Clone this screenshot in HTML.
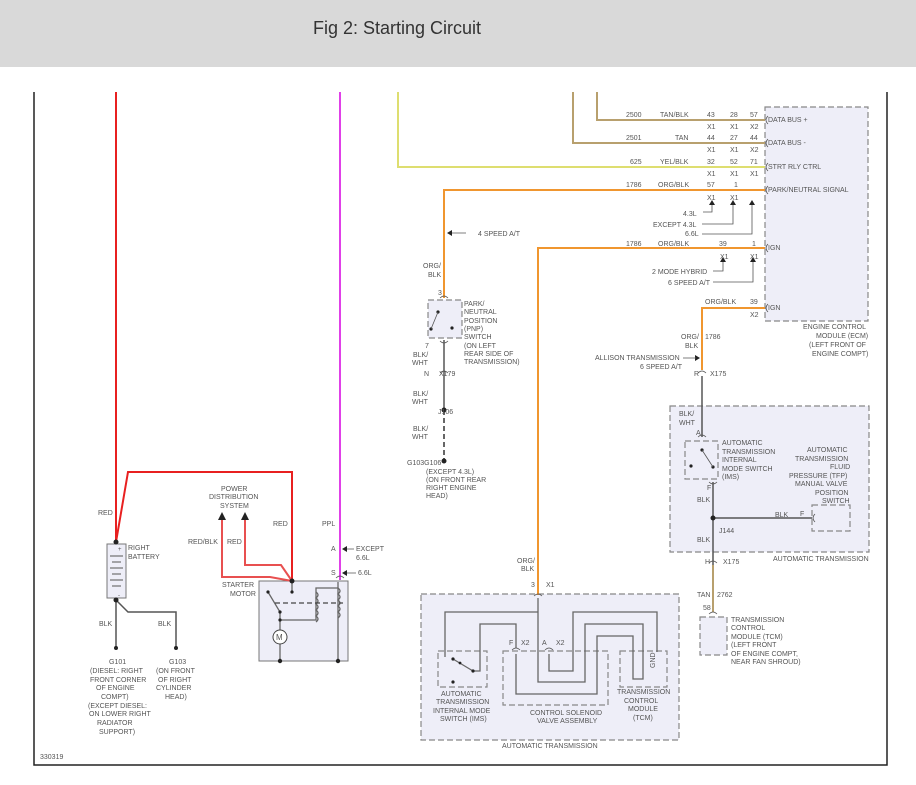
<!DOCTYPE html>
<html><head><style>
body{margin:0;width:916px;height:785px;background:#fff;overflow:hidden}
svg{position:absolute;left:0;top:0}
text{font-family:"Liberation Sans",sans-serif;font-size:7px;fill:#555}
</style></head><body>
<svg width="916" height="785" viewBox="0 0 916 785">
<rect x="0" y="0" width="916" height="67" fill="#d9d9d9"/>
<text x="313" y="34" style="font-size:18px;fill:#333">Fig 2: Starting Circuit</text>
<g stroke="#222" stroke-width="1.5" fill="none">
<path d="M34 92V765H887V92"/>
</g>
<text x="40" y="759">330319</text>

<!-- boxes -->
<g stroke="#888" stroke-width="1.2" stroke-dasharray="6,3" fill="#eeeef8">
<rect x="765" y="107" width="103" height="214"/>
<rect x="670" y="406" width="199" height="146"/>
<rect x="421" y="594" width="258" height="146"/>
<rect x="428" y="300" width="34" height="38"/>
<rect x="685" y="441" width="33" height="38"/>
<rect x="812" y="505" width="38" height="26"/>
<rect x="700" y="617" width="27" height="38"/>
<rect x="438" y="651" width="49" height="36"/>
<rect x="503" y="651" width="105" height="54"/>
<rect x="620" y="651" width="47" height="36"/>
</g>
<rect x="259" y="581" width="89" height="80" fill="#eeeef8" stroke="#777"/>
<rect x="107" y="544" width="19" height="54" fill="#eeeef8" stroke="#777"/>
<g stroke="#555" stroke-width="1">
<path d="M110 556h13M112 562h9M110 568h13M112 574h9M110 580h13M112 586h9"/>
</g>

<!-- wires -->
<g fill="none" stroke-width="2">
<path d="M597 92V120H765" stroke="#b8a06e"/>
<path d="M573 92V143H765" stroke="#b8a06e"/>
<path d="M398 92V167H765" stroke="#dede70"/>
<path d="M765 190H444V298" stroke="#f0962f"/>
<path d="M765 248H538V595" stroke="#f0962f"/>
<path d="M765 308H702V370" stroke="#f0962f"/>
<path d="M116 92V542" stroke="#e82020"/>
<path d="M116 542L128 472H292V581" stroke="#e82020"/>
<path d="M222 516V577H270L292 581" stroke="#e85050"/>
<path d="M245 516V565H281L292 581" stroke="#e85050"/>
<path d="M340 92V580" stroke="#e040e8"/>
<path d="M713 565V612" stroke="#b8a06e"/>
</g>
<g fill="none" stroke="#555" stroke-width="1.5">
<path d="M444 340V410"/>
<path d="M444 410V462" stroke-dasharray="5,3" stroke="#333"/>
<path d="M702 376V437"/>
<path d="M713 482V565M713 518H812"/>
<path d="M116 600V648M116 600L128 612H176V648"/>
</g>
<g fill="none" stroke="#666" stroke-width="1.3">
<!-- lower transmission -->
<path d="M538 598V682H585V624H643V679H633V636H597V694H516V654"/>
<path d="M445 657V612H538"/>
<path d="M473 671H480V624H516V648"/>
<path d="M549 654V671H573V612H657V652"/>
<path d="M453 659L473 671"/>
<!-- starter -->
<path d="M292 581V592M268 592L280 612V637M280 612V620H316V588H338M338 582V661M280 644V661"/>
<path d="M316 592q4 3 0 6q4 3 0 6q4 3 0 6q4 3 0 6q4 3 0 6M338 588q4 3 0 6q4 3 0 6q4 3 0 6q4 3 0 6q4 3 0 6"/>
</g>
<path d="M275 603H343" stroke="#444" stroke-width="1.3" stroke-dasharray="5,3"/>
<circle cx="280" cy="637" r="7" fill="#fff" stroke="#444"/>
<text x="276" y="640" style="font-size:8px">M</text>
<g fill="#222">
<circle cx="116" cy="542" r="2.5"/><circle cx="116" cy="600" r="2.5"/><circle cx="292" cy="581" r="2.5"/>
<circle cx="444" cy="410" r="2.5"/><circle cx="444" cy="461" r="2.5"/><circle cx="713" cy="518" r="2.5"/>
<circle cx="116" cy="648" r="2"/><circle cx="176" cy="648" r="2"/><circle cx="280" cy="661" r="2.2"/><circle cx="338" cy="661" r="2.2"/>
<circle cx="292" cy="592" r="1.6"/><circle cx="268" cy="592" r="1.6"/><circle cx="280" cy="612" r="1.6"/><circle cx="280" cy="620" r="1.6"/>
<circle cx="453" cy="659" r="1.6"/><circle cx="460" cy="663" r="1.4"/><circle cx="473" cy="671" r="1.6"/><circle cx="453" cy="682" r="1.6"/>
<circle cx="438" cy="312" r="1.6"/><circle cx="431" cy="329" r="1.6"/><circle cx="452" cy="328" r="1.6"/>
<circle cx="702" cy="450" r="1.6"/><circle cx="713" cy="467" r="1.6"/><circle cx="691" cy="466" r="1.6"/>
<path d="M218 520L222 512L226 520Z M241 520L245 512L249 520Z"/>
<path d="M709 205L712 200L715 205Z M730 205L733 200L736 205Z M749 205L752 200L755 205Z M720 262L723 257L726 262Z M750 262L753 257L756 262Z"/>
<path d="M447 233L452 230V236Z M700 358L695 355V361Z M342 549L347 546V552Z M342 573L347 570V576Z"/>
</g>
<g fill="none" stroke="#555" stroke-width="0.8">
<path d="M703 212H712V205M702 224H733V205M702 234H752V205M713 271H723V262M713 282H753V262M452 233H466M683 358H696M347 549H354M347 573H356"/>
<path d="M438 312L431 329M702 450L713 467"/>
<path d="M768 116q-4 4 0 8M768 139q-4 4 0 8M768 163q-4 4 0 8M768 186q-4 4 0 8M768 244q-4 4 0 8M768 304q-4 4 0 8M815 514q-4 4 0 8"/>
<path d="M440 298q4-4 8 0M440 341q4 4 8 0M440 373q4-4 8 0M698 373q4-4 8 0M698 437q4-4 8 0M709 482q4 4 8 0M709 563q4-4 8 0M709 614q4-4 8 0M534 596q4-4 8 0M512 650q4-4 8 0M545 650q4-4 8 0M336 578q4-4 8 0"/>
</g>

<!-- text -->
<text x="768" y="122">DATA BUS +</text><text x="768" y="145">DATA BUS -</text>
<text x="768" y="169">STRT RLY CTRL</text><text x="768" y="192">PARK/NEUTRAL SIGNAL</text>
<text x="768" y="250">IGN</text><text x="768" y="310">IGN</text>
<text x="626" y="117">2500</text><text x="660" y="117">TAN/BLK</text><text x="707" y="117">43</text><text x="730" y="117">28</text><text x="750" y="117">57</text>
<text x="707" y="129">X1</text><text x="730" y="129">X1</text><text x="750" y="129">X2</text>
<text x="626" y="140">2501</text><text x="675" y="140">TAN</text><text x="707" y="140">44</text><text x="730" y="140">27</text><text x="750" y="140">44</text>
<text x="707" y="152">X1</text><text x="730" y="152">X1</text><text x="750" y="152">X2</text>
<text x="630" y="164">625</text><text x="660" y="164">YEL/BLK</text><text x="707" y="164">32</text><text x="730" y="164">52</text><text x="750" y="164">71</text>
<text x="707" y="176">X1</text><text x="730" y="176">X1</text><text x="750" y="176">X1</text>
<text x="626" y="187">1786</text><text x="658" y="187">ORG/BLK</text><text x="707" y="187">57</text><text x="734" y="187">1</text>
<text x="707" y="200">X1</text><text x="730" y="200">X1</text>
<text x="683" y="216">4.3L</text><text x="653" y="227">EXCEPT 4.3L</text><text x="685" y="236">6.6L</text>
<text x="478" y="236">4 SPEED A/T</text>
<text x="626" y="246">1786</text><text x="658" y="246">ORG/BLK</text><text x="719" y="246">39</text><text x="752" y="246">1</text>
<text x="720" y="259">X1</text><text x="750" y="259">X1</text>
<text x="652" y="274">2 MODE HYBRID</text><text x="668" y="285">6 SPEED A/T</text>
<text x="705" y="304">ORG/BLK</text><text x="750" y="304">39</text><text x="750" y="317">X2</text>
<text x="803" y="329">ENGINE CONTROL</text><text x="816" y="338">MODULE (ECM)</text><text x="809" y="347">(LEFT FRONT OF</text><text x="812" y="356">ENGINE COMPT)</text>
<text x="681" y="339">ORG/</text><text x="685" y="348">BLK</text><text x="705" y="339">1786</text>
<text x="595" y="360">ALLISON TRANSMISSION</text><text x="640" y="369">6 SPEED A/T</text>
<text x="694" y="376">R</text><text x="710" y="376">X175</text>
<text x="423" y="268">ORG/</text><text x="428" y="277">BLK</text><text x="438" y="295">3</text>
<text x="464" y="306">PARK/</text><text x="464" y="314">NEUTRAL</text><text x="464" y="323">POSITION</text><text x="464" y="331">(PNP)</text><text x="464" y="339">SWITCH</text><text x="464" y="348">(ON LEFT</text><text x="464" y="356">REAR SIDE OF</text><text x="464" y="364">TRANSMISSION)</text>
<text x="425" y="348">7</text><text x="413" y="357">BLK/</text><text x="412" y="365">WHT</text><text x="424" y="376">N</text><text x="439" y="376">X179</text>
<text x="413" y="396">BLK/</text><text x="412" y="404">WHT</text><text x="438" y="414">J106</text>
<text x="413" y="431">BLK/</text><text x="412" y="439">WHT</text>
<text x="407" y="465">G103G106</text><text x="426" y="474">(EXCEPT 4.3L)</text><text x="426" y="482">(ON FRONT REAR</text><text x="426" y="490">RIGHT ENGINE</text><text x="426" y="498">HEAD)</text>
<text x="517" y="563">ORG/</text><text x="521" y="571">BLK</text><text x="531" y="587">3</text><text x="546" y="587">X1</text>
<text x="509" y="645">F</text><text x="521" y="645">X2</text><text x="542" y="645">A</text><text x="556" y="645">X2</text>
<text x="655" y="668" transform="rotate(-90 655 668)">GND</text>
<text x="441" y="696">AUTOMATIC</text><text x="436" y="704">TRANSMISSION</text><text x="433" y="713">INTERNAL MODE</text><text x="440" y="721">SWITCH (IMS)</text>
<text x="530" y="715">CONTROL SOLENOID</text><text x="537" y="723">VALVE ASSEMBLY</text>
<text x="617" y="694">TRANSMISSION</text><text x="624" y="703">CONTROL</text><text x="628" y="711">MODULE</text><text x="633" y="720">(TCM)</text>
<text x="502" y="748">AUTOMATIC TRANSMISSION</text>
<text x="679" y="416">BLK/</text><text x="679" y="425">WHT</text><text x="696" y="435">A</text>
<text x="722" y="445">AUTOMATIC</text><text x="722" y="454">TRANSMISSION</text><text x="722" y="462">INTERNAL</text><text x="722" y="471">MODE SWITCH</text><text x="722" y="479">(IMS)</text>
<text x="807" y="452">AUTOMATIC</text><text x="795" y="461">TRANSMISSION</text><text x="830" y="469">FLUID</text><text x="789" y="478">PRESSURE (TFP)</text><text x="795" y="486">MANUAL VALVE</text><text x="815" y="495">POSITION</text><text x="822" y="503">SWITCH</text>
<text x="707" y="490">F</text><text x="697" y="502">BLK</text><text x="775" y="517">BLK</text><text x="800" y="516">F</text>
<text x="719" y="533">J144</text><text x="697" y="542">BLK</text>
<text x="773" y="561">AUTOMATIC TRANSMISSION</text>
<text x="705" y="564">H</text><text x="723" y="564">X175</text>
<text x="697" y="597">TAN</text><text x="717" y="597">2762</text><text x="703" y="610">58</text>
<text x="731" y="622">TRANSMISSION</text><text x="731" y="630">CONTROL</text><text x="731" y="639">MODULE (TCM)</text><text x="731" y="647">(LEFT FRONT</text><text x="731" y="656">OF ENGINE COMPT,</text><text x="731" y="664">NEAR FAN SHROUD)</text>
<text x="98" y="515">RED</text><text x="128" y="550">RIGHT</text><text x="128" y="559">BATTERY</text>
<text x="118" y="551" style="font-size:6px">+</text><text x="118" y="597" style="font-size:6px">-</text>
<text x="99" y="626">BLK</text><text x="158" y="626">BLK</text>
<text x="109" y="664">G101</text><text x="90" y="673">(DIESEL: RIGHT</text><text x="90" y="682">FRONT CORNER</text><text x="96" y="690">OF ENGINE</text><text x="101" y="699">COMPT)</text><text x="88" y="708">(EXCEPT DIESEL:</text><text x="89" y="716">ON LOWER RIGHT</text><text x="97" y="725">RADIATOR</text><text x="99" y="734">SUPPORT)</text>
<text x="169" y="664">G103</text><text x="156" y="673">(ON FRONT</text><text x="158" y="682">OF RIGHT</text><text x="156" y="690">CYLINDER</text><text x="165" y="699">HEAD)</text>
<text x="221" y="491">POWER</text><text x="209" y="499">DISTRIBUTION</text><text x="220" y="508">SYSTEM</text>
<text x="273" y="526">RED</text><text x="188" y="544">RED/BLK</text><text x="227" y="544">RED</text>
<text x="322" y="526">PPL</text><text x="331" y="551">A</text><text x="356" y="551">EXCEPT</text><text x="356" y="560">6.6L</text>
<text x="331" y="575">S</text><text x="358" y="575">6.6L</text>
<text x="222" y="587">STARTER</text><text x="230" y="596">MOTOR</text>
</svg>
</body></html>
